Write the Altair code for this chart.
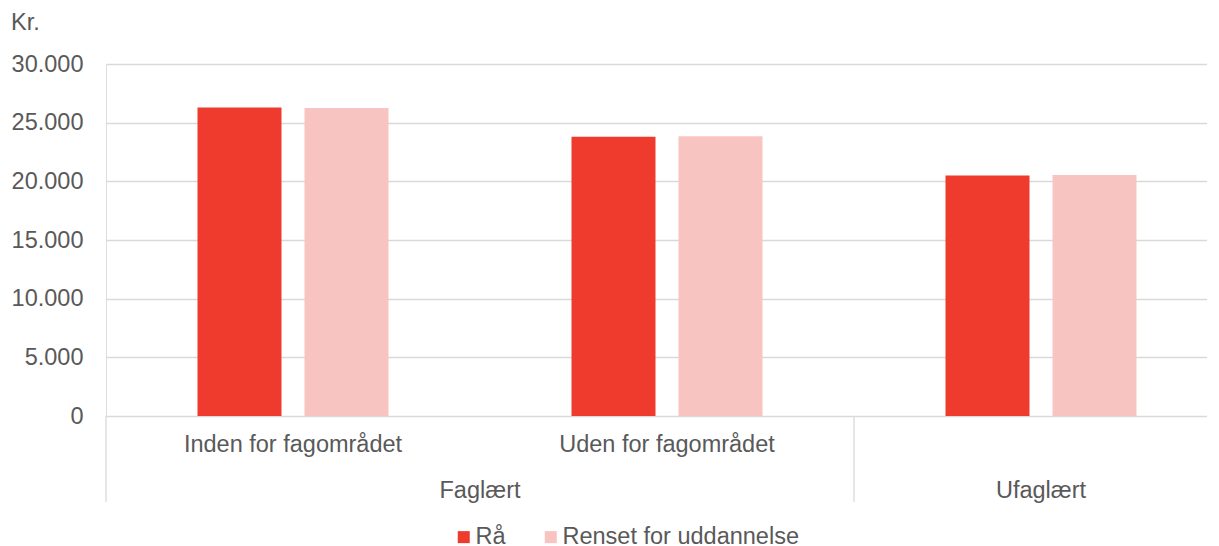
import altair as alt
import pandas as pd

keys = ["Inden for fagområdet", "Uden for fagområdet", "Ufaglært"]
sub_labels = ["Inden for fagområdet", "Uden for fagområdet"]
group_labels = ["Faglært", "Ufaglært"]
series = ["Rå", "Renset for uddannelse"]
raa = [26300, 23800, 20500]
renset = [26250, 23850, 20550]
colors = ["#EE3B2E", "#F8C4C1"]
y_ticks = [0, 5000, 10000, 15000, 20000, 25000, 30000]

FONT = "Liberation Sans"
FS = 23.5
TXT = "#595959"
GRID = "#d9d9d9"
W, H = 1101, 352

rows = []
for k, a, b in zip(keys, raa, renset):
    rows.append({"key": k, "series": series[0], "value": a})
    rows.append({"key": k, "series": series[1], "value": b})
df = pd.DataFrame(rows)

xscale = alt.Scale(domain=keys, range=[0, 1122], paddingInner=0, paddingOuter=0)

bars = alt.Chart(df).mark_bar().encode(
    x=alt.X("key:N", scale=xscale, axis=None, sort=keys),
    xOffset=alt.XOffset("series:N", sort=series,
                        scale=alt.Scale(domain=series, paddingInner=0.215, paddingOuter=0.855)),
    y=alt.Y("value:Q", scale=alt.Scale(domain=[0, 30000], nice=False),
            axis=alt.Axis(values=y_ticks, title=None, grid=True, gridColor=GRID, gridWidth=1.3,
                          domain=False, ticks=False, labelFontSize=FS, labelColor=TXT,
                          labelFont=FONT, labelPadding=23,
                          labelExpr="replace(format(datum.value, ','), ',', '.')")),
    color=alt.Color("series:N", sort=series, scale=alt.Scale(domain=series, range=colors),
                    legend=alt.Legend(orient="none", legendX=346, legendY=461, direction="horizontal",
                                      title=None, symbolType="square", symbolSize=144,
                                      symbolStrokeWidth=0, labelFontSize=FS, labelColor=TXT,
                                      labelFont=FONT, columnPadding=33, labelOffset=0,
                                      labelLimit=500, padding=0)),
)

sep_df = pd.DataFrame({"key": [keys[0], keys[2]]})
seps = alt.Chart(sep_df).mark_rule(color=GRID, strokeWidth=1.3).encode(
    x=alt.X("key:N", bandPosition=0),
    y=alt.value(H), y2=alt.value(H + 86),
)

sub_df = pd.DataFrame({"key": keys[:2], "label": sub_labels})
subs = alt.Chart(sub_df).mark_text(fontSize=FS, color=TXT, font=FONT, baseline="middle").encode(
    x=alt.X("key:N", bandPosition=0.5), y=alt.value(H + 29), text="label:N",
)

g1_df = pd.DataFrame({"key": [keys[0]], "label": [group_labels[0]]})
g1 = alt.Chart(g1_df).mark_text(fontSize=FS, color=TXT, font=FONT, baseline="middle").encode(
    x=alt.X("key:N", bandPosition=1), y=alt.value(H + 75), text="label:N",
)
g2_df = pd.DataFrame({"key": [keys[2]], "label": [group_labels[1]]})
g2 = alt.Chart(g2_df).mark_text(fontSize=FS, color=TXT, font=FONT, baseline="middle").encode(
    x=alt.X("key:N", bandPosition=0.5), y=alt.value(H + 75), text="label:N",
)

chart = alt.layer(bars, seps, subs, g1, g2).properties(
    width=W, height=H,
    title=alt.TitleParams("Kr.", anchor="start", frame="bounds", fontSize=FS, color=TXT,
                          font=FONT, fontWeight="normal", offset=18),
    padding={"left": 3, "right": 0, "top": 2, "bottom": 0},
).configure_view(stroke=None).configure(font=FONT)

chart.save("out.html", embed_options={"renderer": "svg", "actions": False})
